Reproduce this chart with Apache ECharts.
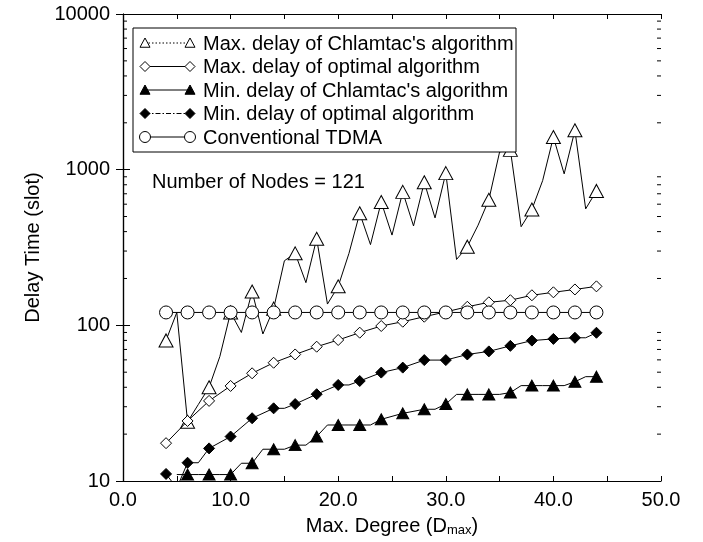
<!DOCTYPE html>
<html>
<head>
<meta charset="utf-8">
<script src="https://cdn.jsdelivr.net/npm/echarts@6/dist/echarts.min.js"></script>
<style>
  html, body { margin: 0; padding: 0; background: #fff; }
  #chart { width: 703px; height: 542px; }
</style>
</head>
<body>
<div id="chart"></div>
<script>
// Maximum node degree D_max (4 .. 44)
const degree = [4, 5, 6, 7, 8, 9, 10, 11, 12, 13, 14, 15, 16, 17, 18, 19, 20, 21, 22, 23, 24,
                25, 26, 27, 28, 29, 30, 31, 32, 33, 34, 35, 36, 37, 38, 39, 40, 41, 42, 43, 44];

// Delay in slots per degree (null = no sample at that degree)
const maxChlamtac = [80, 121, 24, 31, 40, 63, 121, 90, 165, 88, 128, 260, 290, 188, 360, 137, 178, 290, 525, 330, 620,
                     380, 720, 435, 830, 490, 950, 265, 320, 440, 640, 1300, 1340, 430, 555, 850, 1620, 940, 1790, 560, 730];
const maxOptimal = [17.5, null, 24.3, null, 32.7, null, 40.8, null, 49.2, null, 57.5, null, 65, null, 72.9, null, 80.5, null, 89.7, null, 99,
                    null, 105.5, null, 113.6, null, 122, null, 131.6, null, 140.6, null, 145, null, 156, null, 163, null, 170, null, 178];
const minChlamtac = [null, 11, 11, 11, 11, 11, 11, 13, 13, 16, 16, 16, 17, 17, 19.3, 22.9, 22.9, 22.9, 22.9, 22.9, 24.9,
                     null, 27.2, null, 28.9, 28.9, 31.2, 36, 36, 36, 36, 36, 37, 41, 41, 41, 41, 41, 43.4, 46.8, 46.8];
const minOptimal = [11.1, 9, 13.1, 13.1, 16.2, null, 19.3, null, 25.3, null, 29.3, 29.3, 31.2, null, 36.1, null, 41.4, 41.4, 43.9, null, 49.7,
                    null, 53.5, null, 59.8, null, 59.8, null, 65, null, 68, null, 73.8, null, 79.8, null, 81.8, null, 83.2, 83.2, 89.6];
const tdma = [121, null, 121, null, 121, null, 121, null, 121, null, 121, null, 121, null, 121, null, 121, null, 121, null, 121,
              null, 121, null, 121, null, 121, null, 121, null, 121, null, 121, null, 121, null, 121, null, 121, null, 121];

const seriesNames = [
  "Max. delay of Chlamtac's algorithm",
  "Max. delay of optimal algorithm",
  "Min. delay of Chlamtac's algorithm",
  "Min. delay of optimal algorithm",
  "Conventional TDMA"
];
const xTicks = [0, 10, 20, 30, 40, 50];
const yTicks = [10, 100, 1000, 10000];
const nodeNote = 'Number of Nodes = 121';

const FONT = '"Liberation Sans", Arial, Helvetica, sans-serif';
const FS = 20;

// marker spec per series: shape, size, fill, legend key dash pattern
const markers = [
  { shape: 'triangle', size: [14, 13], fill: '#fff', keyDash: [1.5, 2] },
  { shape: 'diamond', size: [11, 11], fill: '#fff', keyDash: null },
  { shape: 'triangle', size: [12, 11], fill: '#000', keyDash: null },
  { shape: 'diamond', size: [11, 11], fill: '#000', keyDash: [5, 2, 1.5, 2] },
  { shape: 'circle', size: 13, fill: '#fff', keyDash: null }
];
const values = [maxChlamtac, maxOptimal, minChlamtac, minOptimal, tdma];

function buildData(vals, shape) {
  const out = [];
  degree.forEach((d, i) => {
    if (vals[i] == null) return;
    out.push({ value: [d, vals[i]], symbol: d % 2 === 0 ? shape : 'none' });
  });
  return out;
}

const series = values.map((vals, k) => ({
  name: seriesNames[k],
  type: 'line',
  data: buildData(vals, markers[k].shape),
  symbol: markers[k].shape,
  symbolSize: markers[k].size,
  showAllSymbol: true,
  itemStyle: { color: markers[k].fill, borderColor: '#000', borderWidth: 1 },
  lineStyle: { color: '#000', width: 1 },
  emphasis: { disabled: true },
  z: 2 + k
}));

const chart = echarts.init(document.getElementById('chart'), null, { renderer: 'canvas' });

const axisLine = { show: true, lineStyle: { color: '#000', width: 1.2 } };

chart.setOption({
  animation: false,
  backgroundColor: '#fff',
  grid: { left: 123, right: 42, top: 14, bottom: 61, show: false },
  xAxis: [
    {
      type: 'value', min: 0, max: 50, interval: 5, position: 'bottom',
      axisLine, splitLine: { show: false },
      axisTick: { inside: true, length: 5, lineStyle: { color: '#000' } },
      axisLabel: {
        color: '#000', fontFamily: FONT, fontSize: FS, margin: 9,
        formatter: v => (xTicks.indexOf(v) >= 0 ? v.toFixed(1) : '')
      },
      name: 'Max. Degree (D{sub|max})',
      nameLocation: 'middle', nameGap: 34,
      nameTextStyle: {
        color: '#000', fontFamily: FONT, fontSize: FS,
        rich: { sub: { fontFamily: FONT, fontSize: 13, verticalAlign: 'bottom', padding: [9, 0, 0, 0] } }
      }
    },
    {
      type: 'value', min: 0, max: 50, interval: 5, position: 'top',
      axisLine, splitLine: { show: false },
      axisTick: { inside: true, length: 5, lineStyle: { color: '#000' } },
      axisLabel: { show: false }
    }
  ],
  yAxis: [
    {
      type: 'log', logBase: 10, min: 10, max: 10000, position: 'left',
      axisLine, splitLine: { show: false },
      axisTick: { inside: true, length: 7, lineStyle: { color: '#000' } },
      axisLabel: {
        color: '#000', fontFamily: FONT, fontSize: FS, margin: 13,
        formatter: v => (yTicks.indexOf(Math.round(v)) >= 0 ? String(Math.round(v)) : '')
      },
      name: 'Delay Time (slot)',
      nameLocation: 'middle', nameGap: 79, nameRotate: 90,
      nameTextStyle: { color: '#000', fontFamily: FONT, fontSize: FS }
    },
    {
      type: 'log', logBase: 10, min: 10, max: 10000, position: 'right',
      axisLine, splitLine: { show: false },
      axisTick: { inside: true, length: 7, lineStyle: { color: '#000' } },
      axisLabel: { show: false }
    }
  ],
  series
});

// minor log ticks (2..9 of each decade) on both vertical axes
const graphics = [];
const leftX = 123, rightX = 661;
[10, 100, 1000].forEach(dec => {
  for (let m = 2; m <= 9; m++) {
    const y = chart.convertToPixel({ yAxisIndex: 0 }, dec * m);
    graphics.push({ type: 'line', shape: { x1: leftX, y1: y, x2: leftX + 4, y2: y }, style: { stroke: '#000', lineWidth: 1 }, z: 10 });
    graphics.push({ type: 'line', shape: { x1: rightX - 4, y1: y, x2: rightX, y2: y }, style: { stroke: '#000', lineWidth: 1 }, z: 10 });
  }
});

// legend box
const legX = 133, legY = 28, legW = 383, legH = 124;
graphics.push({ type: 'rect', shape: { x: legX, y: legY, width: legW, height: legH },
  style: { fill: '#fff', stroke: '#000', lineWidth: 1 }, z: 20 });

function symbolShape(kind, cx, cy, s, fill) {
  const h = s / 2;
  if (kind === 'triangle') {
    return { type: 'polygon', shape: { points: [[cx, cy - h], [cx + h, cy + h * 0.85], [cx - h, cy + h * 0.85]] },
      style: { fill, stroke: '#000', lineWidth: 1 }, z: 22 };
  }
  if (kind === 'diamond') {
    return { type: 'polygon', shape: { points: [[cx, cy - h], [cx + h, cy], [cx, cy + h], [cx - h, cy]] },
      style: { fill, stroke: '#000', lineWidth: 1 }, z: 22 };
  }
  return { type: 'circle', shape: { cx, cy, r: h }, style: { fill, stroke: '#000', lineWidth: 1 }, z: 22 };
}

seriesNames.forEach((name, k) => {
  const cy = 43 + k * 23.5;
  const x1 = 145, x2 = 190;
  const size = markers[k].shape === 'circle' ? 11 : 10;
  const keyStyle = { stroke: '#000', lineWidth: 1 };
  if (markers[k].keyDash) keyStyle.lineDash = markers[k].keyDash;
  graphics.push({ type: 'line', shape: { x1, y1: cy, x2, y2: cy }, style: keyStyle, z: 21 });
  graphics.push(symbolShape(markers[k].shape, x1, cy, size, markers[k].fill));
  graphics.push(symbolShape(markers[k].shape, x2, cy, size, markers[k].fill));
  graphics.push({ type: 'text', x: 203, y: cy + 1, z: 22,
    style: { text: name, fill: '#000', font: FS + 'px ' + FONT, textVerticalAlign: 'middle', verticalAlign: 'middle' } });
});

graphics.push({ type: 'text', x: 152, y: 182, z: 22,
  style: { text: nodeNote, fill: '#000', font: FS + 'px ' + FONT, verticalAlign: 'middle', textVerticalAlign: 'middle' } });

chart.setOption({ graphic: graphics });
</script>
</body>
</html>
